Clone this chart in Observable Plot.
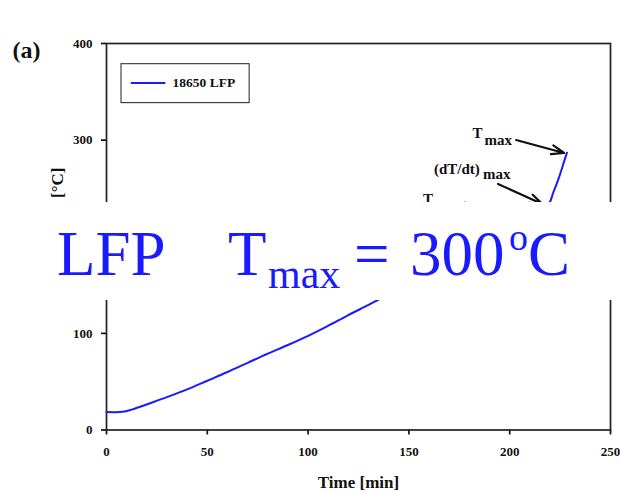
<!DOCTYPE html>
<html>
<head>
<meta charset="utf-8">
<script src="https://cdn.jsdelivr.net/npm/d3@7"></script>
<script src="https://cdn.jsdelivr.net/npm/@observablehq/plot@0.6"></script>
<style>
  html, body { margin: 0; padding: 0; background: white; }
  #wrap { position: relative; width: 620px; height: 492px; overflow: hidden; }
  #banner { position: absolute; left: 0; top: 202px; }
</style>
</head>
<body>
<div id="wrap"></div>
<script>
// ---- data ----
const timeMin = [0, 4, 8, 12, 16, 22, 30, 40, 50, 60, 70, 80, 90, 100, 110, 120, 130, 135,
                 150, 165, 180, 195, 205, 212, 218, 219.8, 221.5, 223.9, 225.5, 227, 228.4];
const tempC   = [18.5, 18.4, 18.8, 20.8, 23.6, 28, 34, 42, 51, 60, 69.5, 79, 88, 97.5, 108, 119, 129.5, 135,
                 151, 168, 186, 204, 216, 225, 233, 235.5, 245, 258, 268, 278, 287];
const seriesName = "18650 LFP";
const xTicks = [0, 50, 100, 150, 200, 250];
const yTicks = [0, 100, 200, 300, 400];
const xTitle = "Time [min]";
const yTitle = "Temperature [°C]";
const panelLabel = "(a)";

const rows = timeMin.map((t, i) => ({t, T: tempC[i]}));
const serif = "'Liberation Serif', 'Times New Roman', Times, serif";
const blue = "#1a1aff";
const ink = "#111";

const chart = Plot.plot({
  width: 620,
  height: 492,
  marginLeft: 106,
  marginRight: 10,
  marginTop: 43,
  marginBottom: 62.5,
  x: {domain: [0, 250]},
  y: {domain: [0, 400]},
  style: {fontFamily: serif, fontSize: "13px", fontWeight: "bold", color: ink, background: "white", overflow: "visible"},
  marks: [
    Plot.axisX({ticks: xTicks, tickSize: 5, tickPadding: 12, label: null, strokeWidth: 1.7, fontSize: 13}),
    Plot.axisY({ticks: yTicks, tickSize: 5, tickPadding: 9, label: null, strokeWidth: 1.7, fontSize: 13}),
    Plot.frame({stroke: "#222", strokeWidth: 1.7}),
    // legend
    Plot.rect([0], {x1: 7.45, x2: 71, y1: 338.3, y2: 378.6, fill: "white", stroke: "#333", strokeWidth: 1.1}),
    Plot.line([[12.4, 359], [28.8, 359]], {x: d => d[0], y: d => d[1], stroke: blue, strokeWidth: 2}),
    Plot.text([seriesName], {x: 32.8, y: 359, text: d => d, textAnchor: "start", fontSize: 13.5, fontWeight: "bold", fill: ink}),
    // series
    Plot.line(rows, {x: "t", y: "T", stroke: blue, strokeWidth: 2, curve: "catmull-rom"}),
    // annotations
    Plot.text(["T"], {x: 181.5, y: 302.5, text: d => d, textAnchor: "start", lineAnchor: "bottom", fontSize: 15, fontWeight: "bold", fill: ink}),
    Plot.text(["max"], {x: 187.5, y: 295, text: d => d, textAnchor: "start", lineAnchor: "bottom", fontSize: 15, fontWeight: "bold", fill: ink}),
    Plot.text(["(dT/dt)"], {x: 162.4, y: 265, text: d => d, textAnchor: "start", lineAnchor: "bottom", fontSize: 15, fontWeight: "bold", fill: ink}),
    Plot.text(["max"], {x: 186.8, y: 259.8, text: d => d, textAnchor: "start", lineAnchor: "bottom", fontSize: 15, fontWeight: "bold", fill: ink}),
    Plot.text(["T"], {x: 157, y: 234, text: d => d, textAnchor: "start", lineAnchor: "bottom", fontSize: 15, fontWeight: "bold", fill: ink}),
    Plot.text(["onset"], {x: 162.5, y: 227.7, text: d => d, textAnchor: "start", lineAnchor: "bottom", fontSize: 15, fontWeight: "bold", fill: ink}),
    Plot.arrow([0], {x1: 203.2, y1: 300.1, x2: 227, y2: 286.7, stroke: ink, strokeWidth: 2.2, headLength: 9, headAngle: 40}),
    Plot.arrow([0], {x1: 194.2, y1: 254.6, x2: 216.1, y2: 234, stroke: ink, strokeWidth: 2.2, headLength: 9, headAngle: 40}),
    // axis titles and panel label
    Plot.text([xTitle], {frameAnchor: "bottom", dy: 58, text: d => d, fontSize: 17, fontWeight: "bold", fill: ink}),
    Plot.text([yTitle], {frameAnchor: "top-left", dx: -56, dy: 124, rotate: -90, textAnchor: "end", text: d => d, fontSize: 17, fontWeight: "bold", fill: ink}),
    Plot.text([panelLabel], {frameAnchor: "top-left", dx: -94, dy: 14, lineAnchor: "bottom", textAnchor: "start", text: d => d, fontSize: 24, fontWeight: "bold", fill: ink})
  ]
});

const wrap = document.getElementById("wrap");
wrap.appendChild(chart);

// white banner with the headline text laid over the middle of the chart
const banner = d3.create("svg").attr("id", "banner").attr("width", 620).attr("height", 98)
  .attr("xmlns", "http://www.w3.org/2000/svg");
banner.append("rect").attr("width", 620).attr("height", 98).attr("fill", "white");
const g = banner.append("g").attr("fill", blue).attr("font-family", serif);
g.append("text").attr("x", 57).attr("y", 73).attr("font-size", 63).text("LFP");
g.append("text").attr("x", 228).attr("y", 73).attr("font-size", 63).text("T");
g.append("text").attr("x", 268).attr("y", 86).attr("font-size", 42).text("max");
g.append("text").attr("x", 354).attr("y", 73).attr("font-size", 63).text("=");
g.append("text").attr("x", 410).attr("y", 73).attr("font-size", 63).text("300");
g.append("text").attr("x", 509).attr("y", 48).attr("font-size", 38).text("o");
g.append("text").attr("x", 528).attr("y", 73).attr("font-size", 63).text("C");
wrap.appendChild(banner.node());
</script>
</body>
</html>
